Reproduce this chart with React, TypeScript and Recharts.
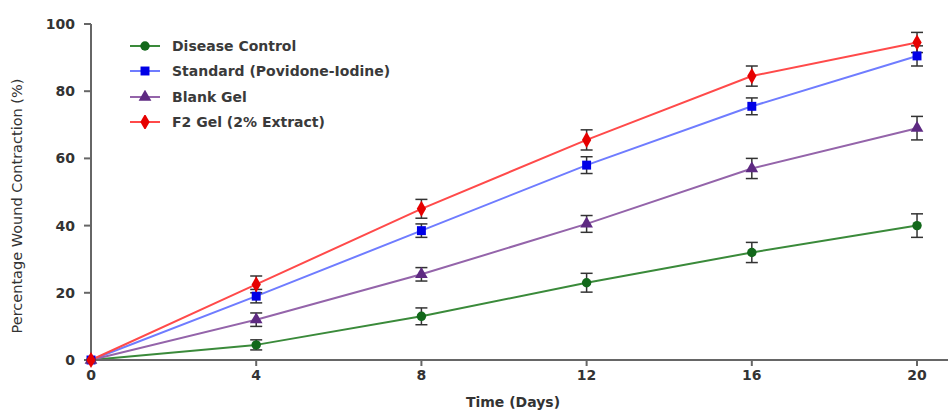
import { LineChart, Line, XAxis, YAxis, ErrorBar, Label, Symbols } from "recharts";

const days = [0, 4, 8, 12, 16, 20];
const diseaseControl = [0, 4.5, 13, 23, 32, 40];
const diseaseControlSd = [0, 1.5, 2.5, 2.8, 3, 3.5];
const standard = [0, 19, 38.5, 58, 75.5, 90.5];
const standardSd = [0, 2, 2, 2.5, 2.5, 3];
const blankGel = [0, 12, 25.5, 40.5, 57, 69];
const blankGelSd = [0, 2, 2, 2.5, 3, 3.5];
const f2Gel = [0, 22.5, 45, 65.5, 84.5, 94.5];
const f2GelSd = [0, 2.5, 2.8, 3, 3, 3];
const yTicks = [0, 20, 40, 60, 80, 100];

const series = [
  { key: "dc", name: "Disease Control", line: "#3a8a3a", mark: "#12681a", shape: "circle", size: 70 },
  { key: "std", name: "Standard (Povidone-Iodine)", line: "#6f7cff", mark: "#0000e6", shape: "square", size: 80 },
  { key: "blank", name: "Blank Gel", line: "#9464aa", mark: "#5e2a82", shape: "triangle", size: 70 },
  { key: "f2", name: "F2 Gel (2% Extract)", line: "#ff4a4a", mark: "#e60000", shape: "diamond", size: 75 },
] as const;

const data = days.map((d, i) => ({
  day: d,
  dc: diseaseControl[i],
  dcErr: diseaseControlSd[i],
  std: standard[i],
  stdErr: standardSd[i],
  blank: blankGel[i],
  blankErr: blankGelSd[i],
  f2: f2Gel[i],
  f2Err: f2GelSd[i],
}));

const font = "'DejaVu Sans', sans-serif";

// legend drawn as an overlay so it doesn't shrink the plot area
const LegendBox = () => (
  <div style={{ position: "absolute", left: 130, top: 33, fontFamily: font }}>
    {series.map((s) => (
      <div key={s.key} style={{ display: "flex", alignItems: "center", height: 25.5 }}>
        <svg width={42} height={14}>
          <line x1={0} y1={7} x2={30} y2={7} stroke={s.line} strokeWidth={2} />
          <Symbols cx={15} cy={7} type={s.shape} size={s.size} fill={s.mark} />
        </svg>
        <span style={{ fontSize: 14, fontWeight: 700, color: "#3a3a3a" }}>{s.name}</span>
      </div>
    ))}
  </div>
);

export default function App() {
  return (
    <div style={{ position: "absolute", left: 0, top: 0, width: 950, height: 410, background: "#fff" }}>
      <LineChart width={950} height={410} data={data} margin={{ top: 24, right: 2, bottom: 0, left: 0 }}>
        <XAxis
          dataKey="day"
          type="number"
          domain={[0, 20.75]}
          ticks={days}
          height={50}
          stroke="#666"
          strokeWidth={2}
          tickSize={6}
          tickMargin={4}
          tick={{ fill: "#333", fontSize: 14, fontWeight: 700, fontFamily: font }}
        >
          <Label
            content={() => (
              <text x={513} y={407} textAnchor="middle" fontSize={14} fontWeight={700} fontFamily={font} fill="#333">
                Time (Days)
              </text>
            )}
          />
        </XAxis>
        <YAxis
          type="number"
          domain={[0, 100]}
          ticks={yTicks}
          width={91}
          stroke="#666"
          strokeWidth={2}
          tickSize={7}
          tickMargin={9}
          tick={{ fill: "#333", fontSize: 14, fontWeight: 700, fontFamily: font }}
        >
          <Label
            content={() => (
              <text x={22} y={206} transform="rotate(-90 22 206)" textAnchor="middle" fontSize={14.5} fontFamily={font} fill="#333">
                Percentage Wound Contraction (%)
              </text>
            )}
          />
        </YAxis>
        {series.map((s) => (
          <Line
            key={s.key}
            dataKey={s.key}
            name={s.name}
            stroke={s.line}
            strokeWidth={2}
            isAnimationActive={false}
            dot={(p: any) => (
              <Symbols key={`${s.key}-${p.index}`} cx={p.cx} cy={p.cy} type={s.shape} size={s.size} fill={s.mark} />
            )}
            activeDot={false}
          >
            <ErrorBar dataKey={`${s.key}Err`} width={6} stroke="#333" strokeWidth={1.5} direction="y" />
          </Line>
        ))}
      </LineChart>
      <LegendBox />
    </div>
  );
}
